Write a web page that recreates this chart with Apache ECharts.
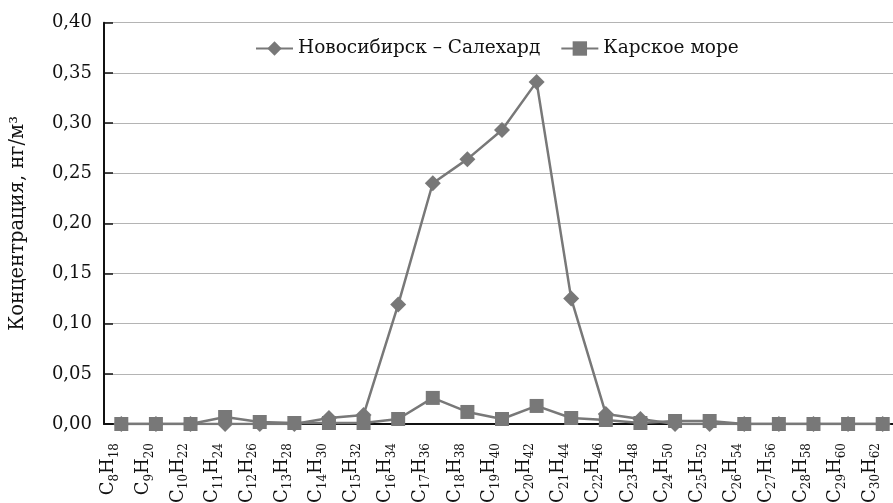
<!DOCTYPE html>
<html><head><meta charset="utf-8">
<script src="https://cdn.jsdelivr.net/npm/echarts@6/dist/echarts.min.js"></script>
<style>html,body{margin:0;padding:0;background:#fff}#c{width:893px;height:503px}</style>
</head><body><div id="c"></div>
<script>
var categories = ['C8H18','C9H20','C10H22','C11H24','C12H26','C13H28','C14H30','C15H32','C16H34','C17H36','C18H38','C19H40','C20H42','C21H44','C22H46','C23H48','C24H50','C25H52','C26H54','C27H56','C28H58','C29H60','C30H62'];
var novosibirsk = [0,0,0,0,0,0,0.006,0.009,0.119,0.240,0.264,0.293,0.341,0.125,0.010,0.005,0,0,0,0,0,0,0];
var karskoe = [0,0,0,0.007,0.002,0.001,0.001,0.001,0.005,0.026,0.012,0.005,0.018,0.006,0.004,0.001,0.003,0.003,0,0,0,0,0];
var seriesNames = ['Новосибирск – Салехард','Карское море'];
var yTicks = {min:0, max:0.4, interval:0.05};

var FONT = 'DejaVu Serif';
var GRAY = '#787878';
var chart = echarts.init(document.getElementById('c'));
chart.setOption({
  animation:false,
  backgroundColor:'#fff',
  textStyle:{fontFamily:FONT},
  legend:{
    left:250, top:34, itemWidth:37, itemHeight:18, itemGap:20,
    textStyle:{fontFamily:FONT, fontSize:18.5, color:'#111'},
    data:seriesNames
  },
  grid:{left:104, right:-7, top:22.7, bottom:79, containLabel:false, outerBoundsMode:'none'},
  xAxis:{
    type:'category', data:categories, boundaryGap:true,
    axisLine:{lineStyle:{color:'#111', width:2}},
    axisTick:{inside:true, length:9, lineStyle:{color:'#111', width:1.5}},
    axisLabel:{
      rotate:90, margin:19, interval:0, color:'#111', fontFamily:FONT,
      padding:[0,0,25,0],
      formatter:function(v){
        var m = v.match(/^C(\d+)H(\d+)$/);
        return '{m|C}{s|'+m[1]+'}{m|H}{s|'+m[2]+'}';
      },
      rich:{
        m:{fontFamily:FONT, fontSize:18, lineHeight:18, verticalAlign:'top', color:'#111'},
        s:{fontFamily:FONT, fontSize:12, lineHeight:12, padding:[9,0,0,0], verticalAlign:'top', color:'#111'}
      }
    }
  },
  yAxis:{
    type:'value', min:yTicks.min, max:yTicks.max, interval:yTicks.interval,
    name:'Концентрация, нг/м³', nameLocation:'middle', nameGap:76,
    nameTextStyle:{fontFamily:FONT, fontSize:19.5, color:'#111'},
    axisLine:{show:true, lineStyle:{color:'#111', width:2}},
    axisTick:{show:true, inside:true, length:9, lineStyle:{color:'#111', width:1.5}},
    splitLine:{lineStyle:{color:'#b4b4b4', width:1}},
    axisLabel:{fontFamily:FONT, fontSize:18, color:'#111', margin:12,
      formatter:function(v){return v.toFixed(2).replace('.', ',');}}
  },
  series:[
    {name:seriesNames[0], type:'line', data:novosibirsk, symbol:'diamond', symbolSize:16,
     lineStyle:{color:GRAY, width:2.5}, itemStyle:{color:GRAY}},
    {name:seriesNames[1], type:'line', data:karskoe, symbol:'rect', symbolSize:14,
     lineStyle:{color:GRAY, width:2.5}, itemStyle:{color:GRAY}}
  ]
});
</script></body></html>
